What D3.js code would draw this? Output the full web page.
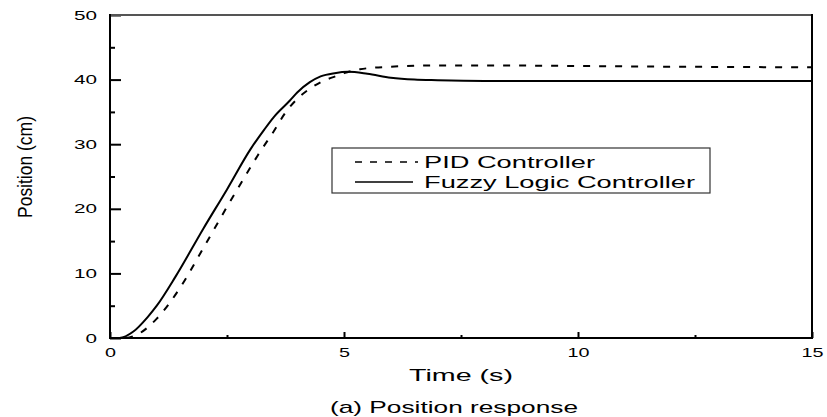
<!DOCTYPE html>
<html>
<head>
<meta charset="utf-8">
<script src="https://cdn.jsdelivr.net/npm/d3@7"></script>
<style>
  html, body { margin: 0; padding: 0; background: #fff; }
  svg { display: block; font-family: "Liberation Sans", Arial, sans-serif; }
</style>
</head>
<body>
<svg id="chart" width="827" height="417"></svg>
<script>
// ---- data ----
const timeFuzzy = [0, 0.2, 0.5, 0.8, 1.0, 1.4, 2.0, 2.5, 3.0, 3.3, 3.5, 3.85, 4.0, 4.27, 4.5, 4.8, 5.09, 5.5, 6.0, 6.5, 7.0, 8.0, 10.0, 12.0, 15.0];
const posFuzzy  = [0, 0, 1.0, 3.2, 5.0, 9.5, 17.0, 23.0, 29.2, 32.3, 34.2, 36.8, 38.0, 39.6, 40.5, 41.0, 41.2, 40.9, 40.3, 40.0, 39.9, 39.8, 39.8, 39.8, 39.8];
const timePID   = [0, 0.3, 0.6, 1.0, 1.5, 2.0, 2.5, 3.0, 3.16, 3.5, 3.74, 4.0, 4.27, 4.5, 4.85, 5.0, 5.34, 6.0, 7.0, 8.0, 10.0, 12.0, 15.0];
const posPID    = [0, 0, 0.6, 3.0, 7.8, 14.0, 20.3, 26.4, 28.3, 32.0, 34.8, 37.0, 38.6, 39.6, 40.6, 41.0, 41.6, 42.0, 42.2, 42.2, 42.1, 42.0, 41.9];
const seriesNames = ["PID Controller", "Fuzzy Logic Controller"];
const xTicks = [0, 5, 10, 15];
const xMinorTicks = [2.5, 7.5, 12.5];
const yTicks = [0, 10, 20, 30, 40, 50];
const yMinorTicks = [5, 15, 25, 35, 45];
const xLabel = "Time (s)";
const yLabel = "Position (cm)";
const caption = "(a) Position response";

// ---- layout ----
const svg = d3.select("#chart");
const x = d3.scaleLinear().domain([0, 15]).range([110, 812]);
const y = d3.scaleLinear().domain([0, 50]).range([338, 15]);

// axes
const gy = svg.append("g").attr("transform", "translate(110,0)")
  .call(d3.axisLeft(y).tickValues(yTicks).tickSizeInner(-11).tickSizeOuter(0).tickPadding(13));
const gyMinor = svg.append("g").attr("transform", "translate(110,0)")
  .call(d3.axisLeft(y).tickValues(yMinorTicks).tickSizeInner(-5).tickSizeOuter(0).tickFormat(""));
const gx = svg.append("g").attr("transform", "translate(0,338)")
  .call(d3.axisBottom(x).tickValues(xTicks).tickSizeInner(-6).tickSizeOuter(0).tickPadding(9));
const gxMinor = svg.append("g").attr("transform", "translate(0,338)")
  .call(d3.axisBottom(x).tickValues(xMinorTicks).tickSizeInner(-3).tickSizeOuter(0).tickFormat(""));

[gy, gyMinor, gx, gxMinor].forEach(g => {
  g.select(".domain").remove();
  g.selectAll(".tick line").attr("stroke", "#000").attr("stroke-width", 2);
});
gy.selectAll(".tick text")
  .attr("font-size", 13).attr("fill", "#000")
  .attr("font-family", "Liberation Sans, Arial, sans-serif")
  .attr("lengthAdjust", "spacingAndGlyphs")
  .attr("textLength", d => String(d).length * 11.5);
gx.selectAll(".tick text")
  .attr("font-size", 13.5).attr("fill", "#000")
  .attr("font-family", "Liberation Sans, Arial, sans-serif")
  .attr("lengthAdjust", "spacingAndGlyphs")
  .attr("textLength", d => String(d).length * 11);

// frame
const [X0, X1] = x.range();
const [Y0, Y1] = y.range();
svg.append("line").attr("x1", X0).attr("x2", X1).attr("y1", Y1).attr("y2", Y1)
  .attr("stroke", "#555").attr("stroke-width", 2);
svg.append("line").attr("x1", X1).attr("x2", X1).attr("y1", Y1 - 1).attr("y2", Y0 + 1)
  .attr("stroke", "#000").attr("stroke-width", 2);
svg.append("line").attr("x1", X0).attr("x2", X0).attr("y1", Y1 - 1).attr("y2", Y0 + 1)
  .attr("stroke", "#000").attr("stroke-width", 2);
svg.append("line").attr("x1", X0 - 1).attr("x2", X1 + 1).attr("y1", Y0).attr("y2", Y0)
  .attr("stroke", "#000").attr("stroke-width", 2);

// curves
const line = d3.line().x(d => x(d[0])).y(d => y(d[1])).curve(d3.curveMonotoneX);
const pidData = timePID.map((t, i) => [t, posPID[i]]);
const fuzzyData = timeFuzzy.map((t, i) => [t, posFuzzy[i]]);
svg.append("path").datum(pidData).attr("d", line)
  .attr("fill", "none").attr("stroke", "#000").attr("stroke-width", 2)
  .attr("stroke-dasharray", "7,9");
svg.append("path").datum(fuzzyData).attr("d", line)
  .attr("fill", "none").attr("stroke", "#000").attr("stroke-width", 2);

// legend
const lg = svg.append("g");
lg.append("rect").attr("x", 332).attr("y", 148).attr("width", 378).attr("height", 45)
  .attr("fill", "#fff").attr("stroke", "#333").attr("stroke-width", 1.2);
lg.append("line").attr("x1", 355).attr("x2", 418).attr("y1", 162).attr("y2", 162)
  .attr("stroke", "#000").attr("stroke-width", 1.5).attr("stroke-dasharray", "7,8");
lg.append("line").attr("x1", 355).attr("x2", 413).attr("y1", 182).attr("y2", 182)
  .attr("stroke", "#000").attr("stroke-width", 1.5);
lg.append("text").attr("x", 424).attr("y", 168).attr("font-size", 16.5)
  .attr("textLength", 171).attr("lengthAdjust", "spacingAndGlyphs").text(seriesNames[0]);
lg.append("text").attr("x", 424).attr("y", 188).attr("font-size", 16.5)
  .attr("textLength", 271).attr("lengthAdjust", "spacingAndGlyphs").text(seriesNames[1]);

// axis titles
svg.append("text").attr("x", 461).attr("y", 381).attr("font-size", 17)
  .attr("text-anchor", "middle").attr("textLength", 104).attr("lengthAdjust", "spacingAndGlyphs")
  .text(xLabel);
svg.append("text").attr("x", 454).attr("y", 413).attr("font-size", 17)
  .attr("text-anchor", "middle").attr("textLength", 248).attr("lengthAdjust", "spacingAndGlyphs")
  .text(caption);
svg.append("text").attr("transform", "translate(32,167) rotate(-90)")
  .attr("font-size", 21).attr("text-anchor", "middle")
  .attr("textLength", 102).attr("lengthAdjust", "spacingAndGlyphs")
  .text(yLabel);
</script>
</body>
</html>
